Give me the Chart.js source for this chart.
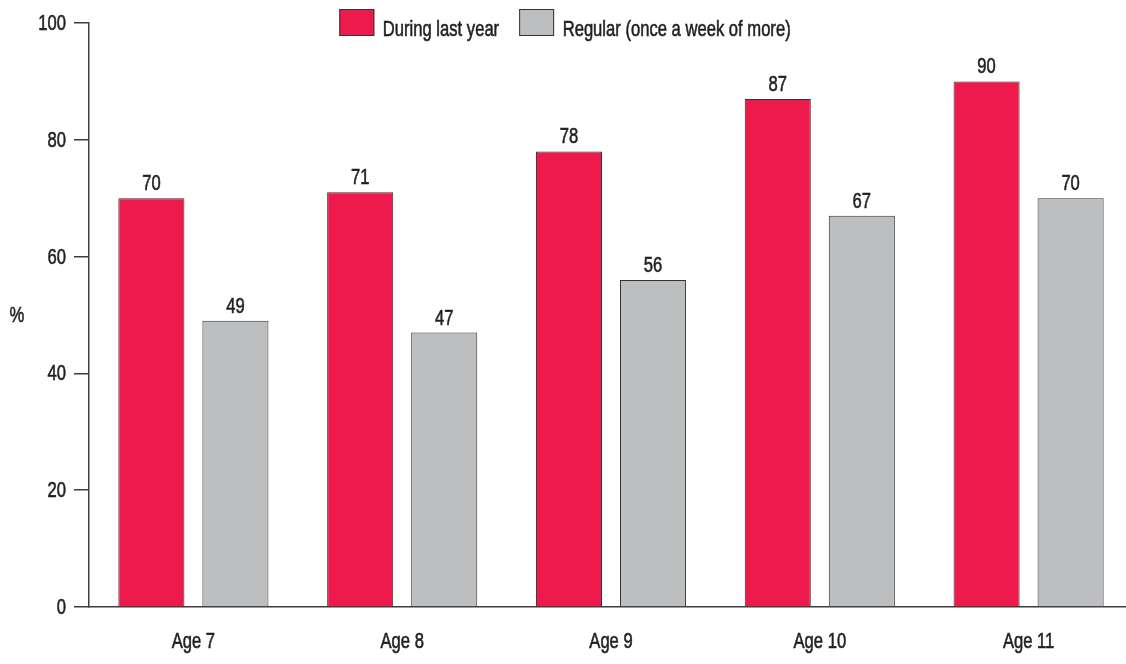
<!DOCTYPE html>
<html>
<head>
<meta charset="utf-8">
<title>Participation by age</title>
<script src="https://cdn.jsdelivr.net/npm/chart.js@4.4.1/dist/chart.umd.min.js"></script>
<style>
    html, body { margin: 0; padding: 0; background: #fff; overflow: hidden; }
    #wrap { width: 1140px; height: 664px; }
</style>
</head>
<body>
<div id="wrap"><canvas id="ageChart" width="1140" height="664"></canvas></div>
<script>
const ages = ['Age 7', 'Age 8', 'Age 9', 'Age 10', 'Age 11'];
const duringLastYear = [70, 71, 78, 87, 90];
const regularWeekly = [49, 47, 56, 67, 70];
const seriesNames = ['During last year', 'Regular (once a week of more)'];
const yTicks = [0, 20, 40, 60, 80, 100];

// condensed look: regular sans squeezed horizontally
const FONT = "22px 'Liberation Sans', Arial, sans-serif";
const SQUEEZE = 0.755;
const TEXT = '#231f20';
const AXIS = '#3d3d3d';
const RED = '#ee1a4b';
const GREY = '#bdbec0';
const EDGE = '#333333';

function squeezedText(ctx, str, x, y, align, baseline) {
    ctx.save();
    ctx.font = FONT;
    ctx.fillStyle = TEXT;
    ctx.strokeStyle = TEXT;
    ctx.lineWidth = 0.6;
    ctx.textAlign = align;
    ctx.textBaseline = baseline || 'alphabetic';
    ctx.translate(x, y);
    ctx.scale(SQUEEZE, 1);
    ctx.fillText(str, 0, 0);
    // squeezing thins the stems, a light stroke brings the weight back
    ctx.strokeText(str, 0, 0);
    ctx.restore();
}

function squeezedWidth(ctx, str) {
    ctx.save();
    ctx.font = FONT;
    const w = ctx.measureText(str).width * SQUEEZE;
    ctx.restore();
    return w;
}

// tick labels for both axes, placed from the scales
const axisLabels = {
    id: 'axisLabels',
    afterDraw(chart) {
        const ctx = chart.ctx;
        const xs = chart.scales.x, ys = chart.scales.y;
        yTicks.forEach(v => {
            squeezedText(ctx, String(v), 66, ys.getPixelForValue(v) + 1, 'right', 'middle');
        });
        ages.forEach((a, i) => {
            squeezedText(ctx, a, xs.getPixelForTick(i), 648, 'center');
        });
        const area = chart.chartArea;
        squeezedText(ctx, '%', 17, (area.top + area.bottom) / 2 + 1, 'center', 'middle');
    }
};

// numbers above each bar
const valueLabels = {
    id: 'valueLabels',
    afterDatasetsDraw(chart) {
        const ctx = chart.ctx;
        chart.data.datasets.forEach((ds, i) => {
            chart.getDatasetMeta(i).data.forEach((bar, j) => {
                squeezedText(ctx, String(ds.data[j]), bar.x, bar.y - 8, 'center');
            });
        });
    }
};

// legend row at the top, overlapping the plot's upper edge
const topLegend = {
    id: 'topLegend',
    afterDraw(chart) {
        const ctx = chart.ctx;
        const boxW = 35, boxH = 27, gap = 8.5, spacing = 20;
        const centerX = 565, boxTop = 9, baseline = 36;
        const items = chart.data.datasets.map(ds => ({ ds: ds, w: squeezedWidth(ctx, ds.label) }));
        const total = items.reduce((s, it) => s + boxW + gap + it.w, 0) + spacing * (items.length - 1);
        let x = centerX - total / 2;
        items.forEach(it => {
            ctx.save();
            ctx.fillStyle = it.ds.backgroundColor;
            ctx.fillRect(x, boxTop, boxW, boxH);
            ctx.strokeStyle = it.ds.borderColor;
            ctx.lineWidth = 1;
            ctx.strokeRect(x + 0.5, boxTop + 0.5, boxW - 1, boxH - 1);
            ctx.restore();
            squeezedText(ctx, it.ds.label, x + boxW + gap, baseline, 'left');
            x += boxW + gap + it.w + spacing;
        });
    }
};

new Chart(document.getElementById('ageChart'), {
    type: 'bar',
    data: {
        labels: ages,
        datasets: [{
            label: seriesNames[0],
            data: duringLastYear,
            backgroundColor: RED,
            borderColor: EDGE,
            borderWidth: 1
        }, {
            label: seriesNames[1],
            data: regularWeekly,
            backgroundColor: GREY,
            borderColor: EDGE,
            borderWidth: 1
        }]
    },
    options: {
        responsive: false,
        animation: false,
        categoryPercentage: 0.805,
        barPercentage: 0.786,
        layout: {
            padding: { left: 74, right: 7, top: 23, bottom: 57 }
        },
        scales: {
            x: {
                grid: { display: false, drawTicks: false },
                border: { display: true, color: AXIS, width: 1.5 },
                ticks: { display: false }
            },
            y: {
                min: 0,
                max: 100,
                afterBuildTicks: axis => {
                    axis.ticks = yTicks.map(v => ({ value: v }));
                },
                grid: {
                    drawOnChartArea: false,
                    drawTicks: true,
                    tickLength: 15,
                    color: AXIS,
                    lineWidth: 1.5
                },
                border: { display: true, color: AXIS, width: 1.5 },
                ticks: { display: false }
            }
        },
        plugins: {
            legend: { display: false },
            tooltip: { enabled: false }
        }
    },
    plugins: [valueLabels, axisLabels, topLegend]
});
</script>
</body>
</html>
